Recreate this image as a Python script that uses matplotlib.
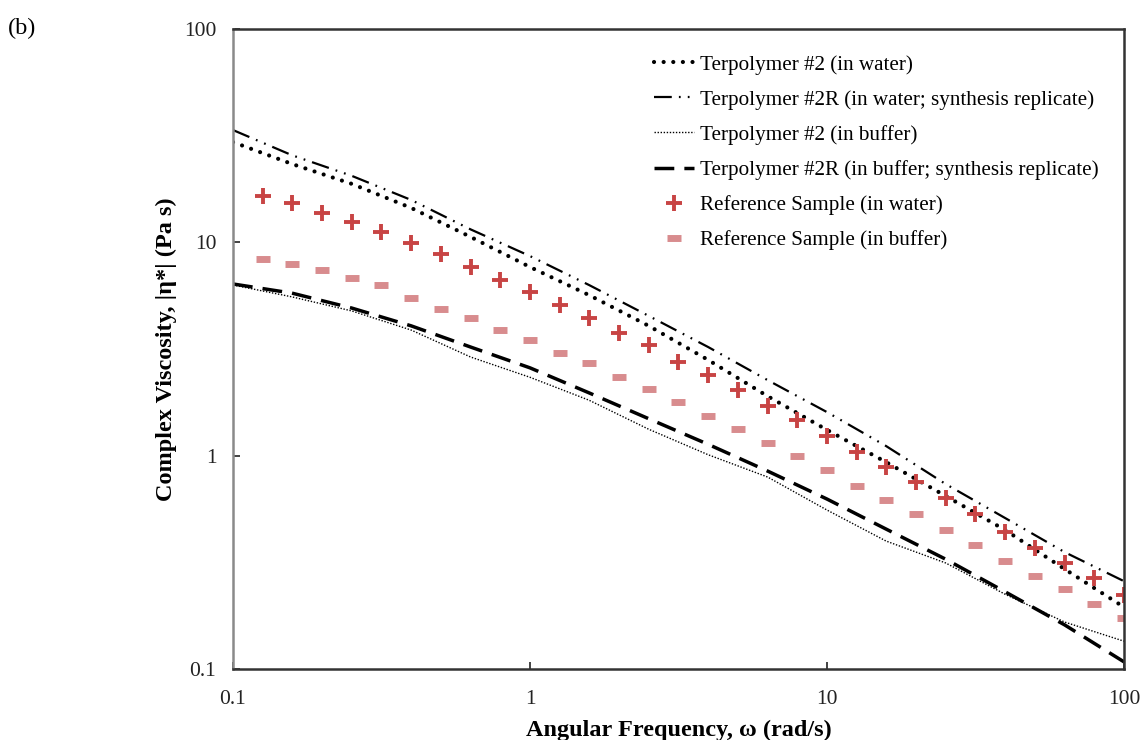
import matplotlib
matplotlib.use("Agg")
import matplotlib.pyplot as plt
from matplotlib.ticker import FixedLocator, FixedFormatter, NullLocator

plt.rcParams["font.family"] = ["Liberation Serif", "DejaVu Serif"]

# line curves, sampled every 0.2 decade
freq_line = [0.1, 0.158, 0.251, 0.398, 0.631, 1.0, 1.58, 2.51, 3.98, 6.31,
             10.0, 15.8, 25.1, 39.8, 63.1, 100.0]
t2_water = [29.5, 23.3, 18.8, 14.5, 10.6, 7.66, 5.66, 4.06, 2.81, 1.90,
            1.32, 0.933, 0.647, 0.448, 0.294, 0.195]
t2r_water = [33.6, 25.6, 20.5, 15.8, 11.5, 8.62, 6.31, 4.52, 3.23, 2.26,
             1.60, 1.11, 0.736, 0.510, 0.353, 0.258]
t2_buffer = [6.31, 5.55, 4.77, 3.88, 2.90, 2.33, 1.82, 1.33, 1.01, 0.794,
             0.556, 0.398, 0.314, 0.224, 0.166, 0.135]
t2r_buffer = [6.38, 5.78, 4.92, 4.06, 3.23, 2.58, 1.97, 1.49, 1.13, 0.847,
              0.626, 0.453, 0.327, 0.230, 0.161, 0.108]

# reference sample points, 10 per decade
freq_ref = [0.126, 0.158, 0.200, 0.251, 0.316, 0.398, 0.501, 0.631, 0.794, 1.0,
            1.26, 1.58, 2.00, 2.51, 3.16, 3.98, 5.01, 6.31, 7.94, 10.0,
            12.6, 15.8, 20.0, 25.1, 31.6, 39.8, 50.1, 63.1, 79.4, 100.0]
ref_water = [16.5, 15.3, 13.7, 12.4, 11.2, 9.93, 8.81, 7.66, 6.65, 5.85,
             5.08, 4.42, 3.76, 3.30, 2.75, 2.39, 2.03, 1.71, 1.47, 1.24,
             1.04, 0.885, 0.752, 0.632, 0.532, 0.438, 0.369, 0.313, 0.267, 0.222]
ref_buffer = [8.35, 7.91, 7.41, 6.80, 6.31, 5.48, 4.87, 4.42, 3.88, 3.48,
              3.03, 2.72, 2.33, 2.05, 1.78, 1.53, 1.33, 1.15, 0.995, 0.855,
              0.720, 0.619, 0.532, 0.448, 0.381, 0.321, 0.273, 0.237, 0.201, 0.173]

labels = ["Terpolymer #2 (in water)",
          "Terpolymer #2R (in water; synthesis replicate)",
          "Terpolymer #2 (in buffer)",
          "Terpolymer #2R (in buffer; synthesis replicate)",
          "Reference Sample (in water)",
          "Reference Sample (in buffer)"]

fig = plt.figure(figsize=(11.45, 7.4), dpi=100)
ax = fig.add_axes([233 / 1145, 1 - 669 / 740, (1124 - 233) / 1145, (669 - 29) / 740])

ax.plot(freq_line, t2_water, color="black", lw=3.0, ls=(0, (0.01, 2.3)),
        dash_capstyle="round", label=labels[0])
ax.plot(freq_line, t2r_water, color="black", lw=1.6,
        ls=(0, (8, 3.2, 0.8, 3.2, 0.8, 3.2)), label=labels[1])
ax.plot(freq_line, t2_buffer, color="black", lw=1.0, ls=(0, (1, 1.2)),
        label=labels[2])
ax.plot(freq_line, t2r_buffer, color="black", lw=2.5, ls=(0, (5.7, 2.9)),
        label=labels[3])
ax.plot(freq_ref, ref_water, ls="none", marker="+", ms=12, mew=2.8,
        color="#C84444", label=labels[4])
ax.plot(freq_ref, ref_buffer, ls="none", marker="_", ms=10, mew=5,
        color="#D88C8E", label=labels[5])

ax.set_xscale("log")
ax.set_yscale("log")
ax.set_xlim(0.1, 100)
ax.set_ylim(0.1, 100)

decades = [0.1, 1, 10, 100]
decade_text = ["0.1", "1", "10", "100"]
for axis in (ax.xaxis, ax.yaxis):
    axis.set_major_locator(FixedLocator(decades))
    axis.set_major_formatter(FixedFormatter(decade_text))
    axis.set_minor_locator(NullLocator())
ax.tick_params(axis="both", direction="in", length=5, width=1.2,
               labelsize=15.5, colors="#222222")
ax.tick_params(axis="x", pad=15)
ax.tick_params(axis="y", pad=12)

for side in ["top", "right", "bottom"]:
    ax.spines[side].set_color("#333333")
    ax.spines[side].set_linewidth(1.8)
ax.spines["left"].set_color("#8a8a8a")
ax.spines["left"].set_linewidth(1.8)

ax.set_xlabel("Angular Frequency, ω (rad/s)", fontsize=17.5, fontweight="bold",
              labelpad=8)
ax.set_ylabel("Complex Viscosity, |η*| (Pa s)", fontsize=17.5, fontweight="bold",
              labelpad=5)

ax.legend(loc="upper left", bbox_to_anchor=(654 / 1145, 1 - 55 / 740),
          bbox_transform=fig.transFigure, frameon=False, fontsize=15.2,
          handlelength=1.9, handletextpad=0.3, labelspacing=0.72,
          borderaxespad=0, borderpad=0)

fig.text(8 / 1145, 1 - 34 / 740, "(b)", fontsize=17.5)

fig.savefig("out.png", dpi=100)
